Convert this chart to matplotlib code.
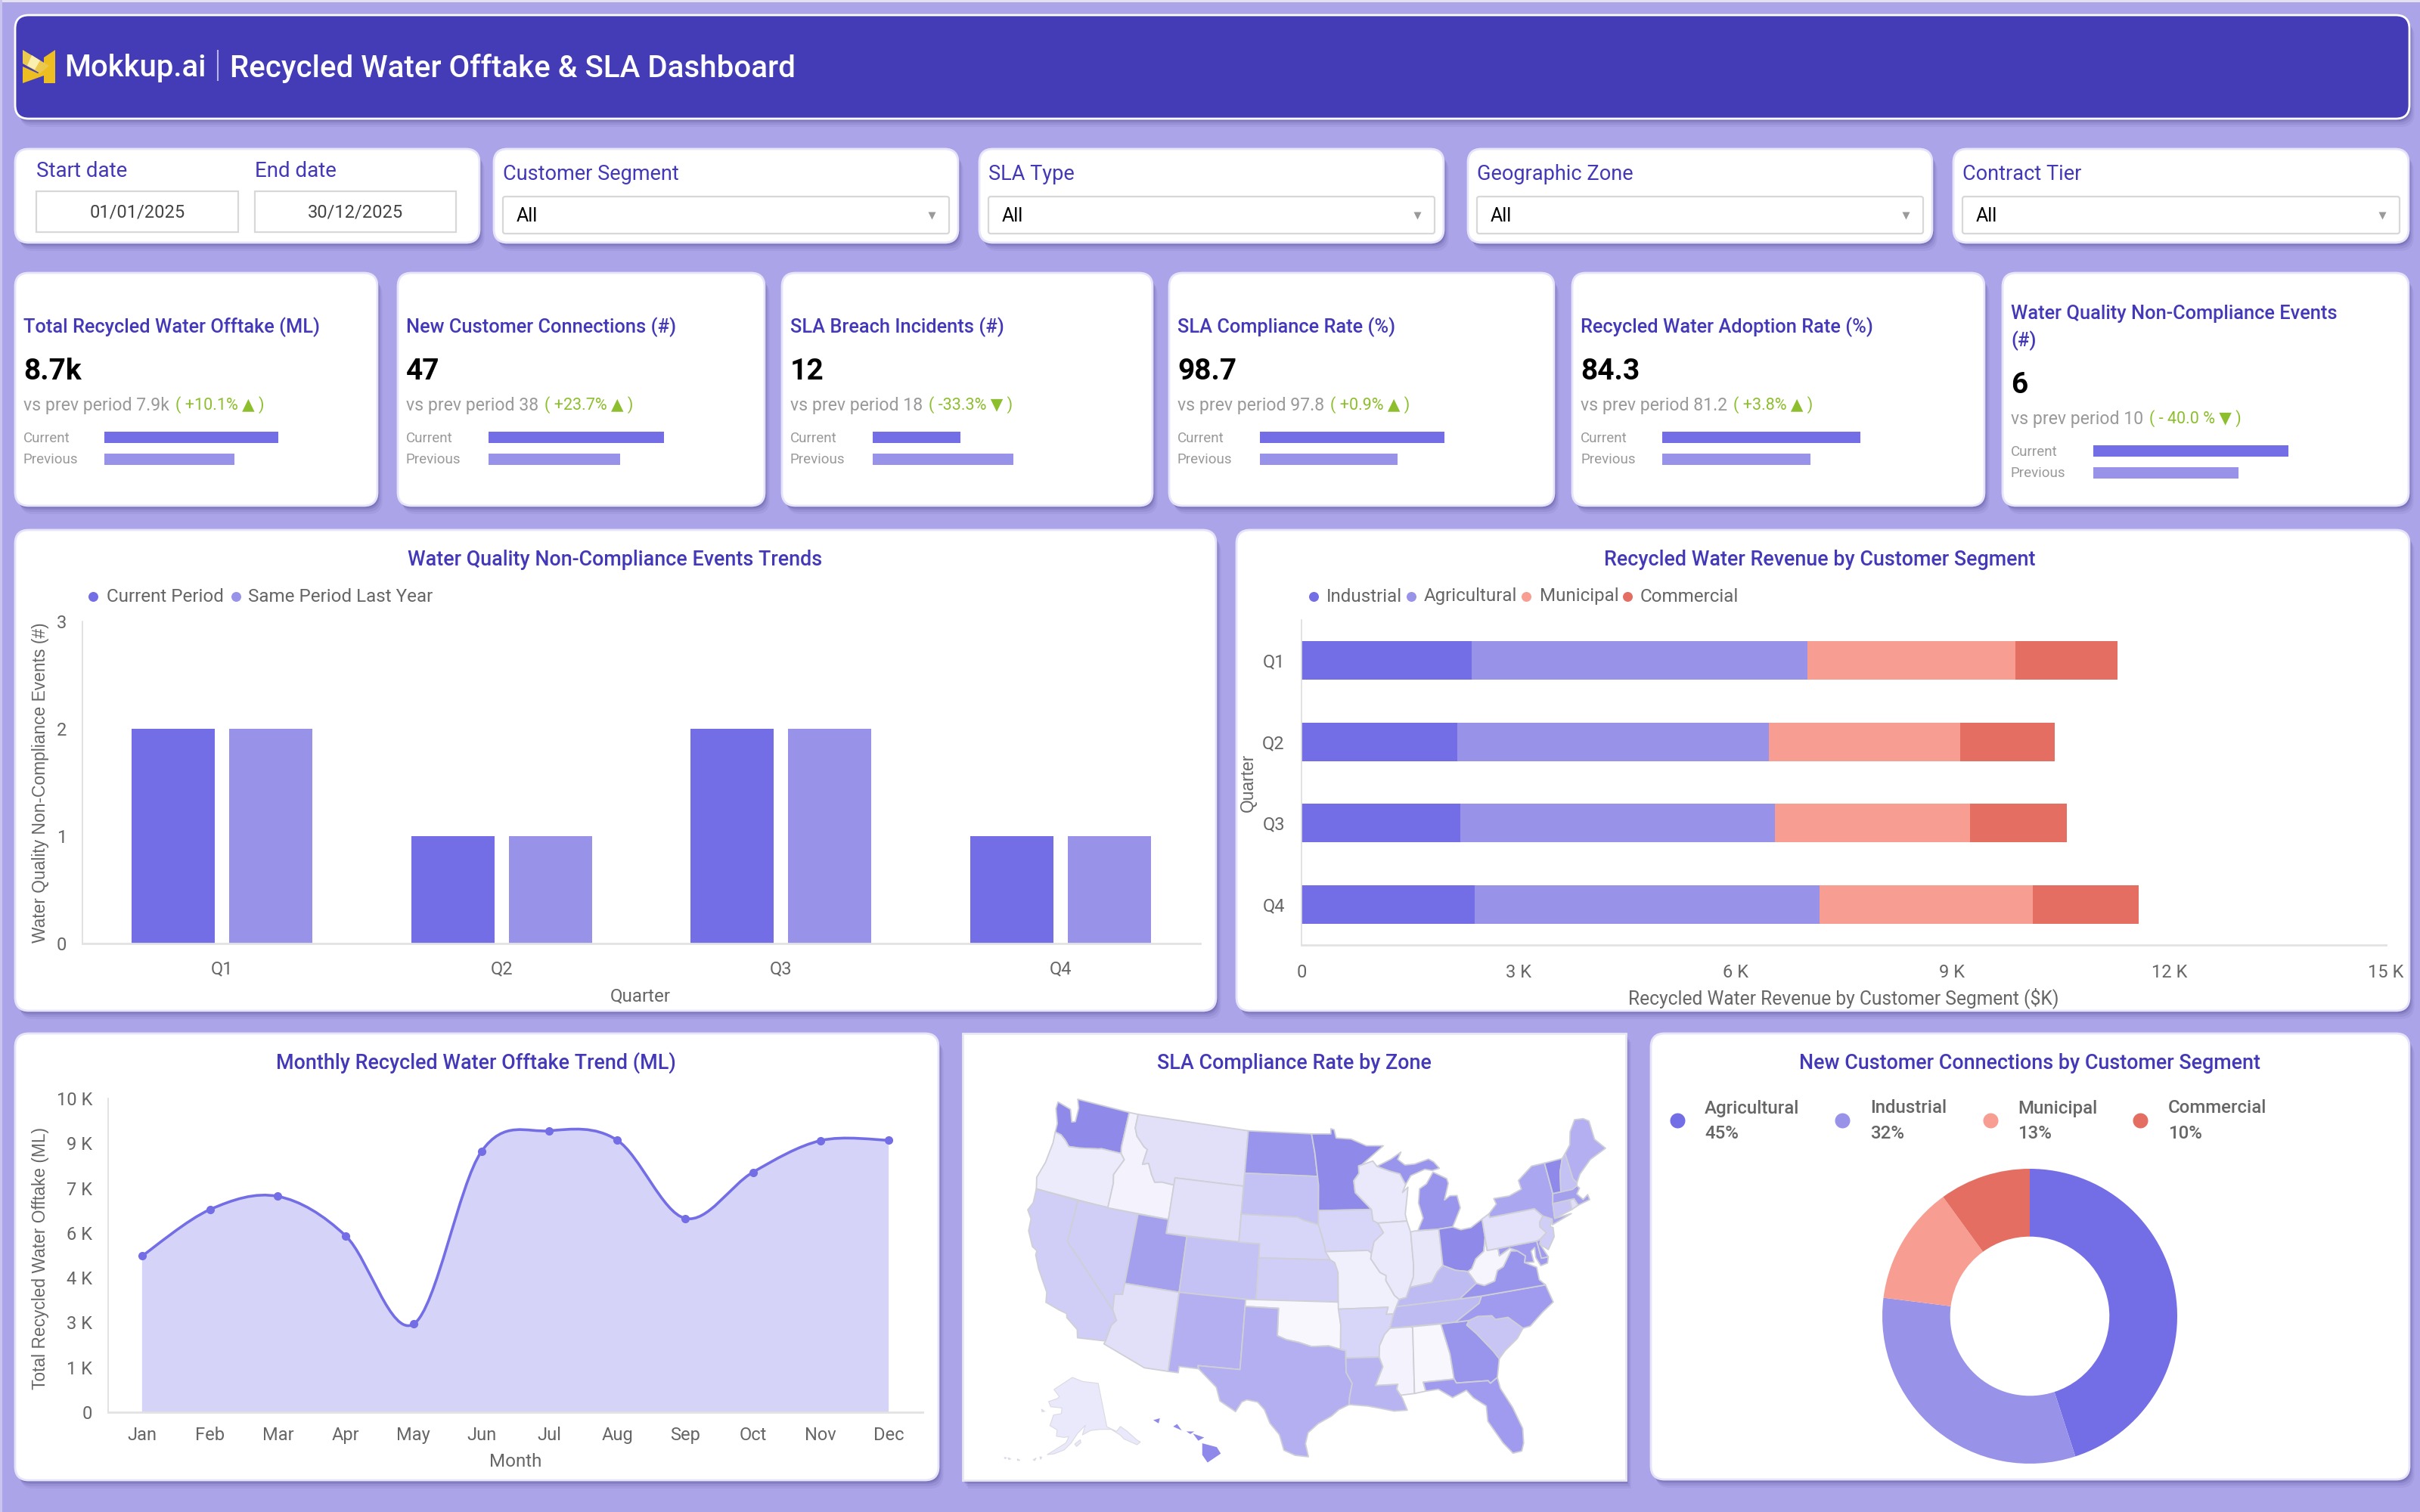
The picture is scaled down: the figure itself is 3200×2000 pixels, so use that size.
import math
import matplotlib
matplotlib.use('Agg')
import matplotlib.pyplot as plt
from matplotlib.patches import FancyBboxPatch, Polygon, Rectangle, PathPatch
from matplotlib.path import Path

plt.rcParams['font.family'] = ['Roboto', 'DejaVu Sans']

# ---- data ----
quarters = ['Q1', 'Q2', 'Q3', 'Q4']
events_current = [2, 1, 2, 1]
events_last_year = [2, 1, 2, 1]

revenue_industrial = [2.35, 2.16, 2.20, 2.40]
revenue_agricultural = [4.65, 4.30, 4.35, 4.77]
revenue_municipal = [2.87, 2.65, 2.70, 2.94]
revenue_commercial = [1.42, 1.31, 1.34, 1.47]

months = ['Jan', 'Feb', 'Mar', 'Apr', 'May', 'Jun', 'Jul', 'Aug', 'Sep', 'Oct', 'Nov', 'Dec']
offtake = [4980, 6460, 6880, 5620, 2810, 8310, 8970, 8670, 6180, 7650, 8660, 8670]

segments = ['Agricultural', 'Industrial', 'Municipal', 'Commercial']
connections = [45, 32, 13, 10]

kpi_titles = ['Total Recycled Water Offtake (ML)', 'New Customer Connections (#)',
              'SLA Breach Incidents (#)', 'SLA Compliance Rate (%)',
              'Recycled Water Adoption Rate (%)', 'Water Quality Non-Compliance Events\n(#)']
kpi_values = ['8.7k', '47', '12', '98.7', '84.3', '6']
kpi_prev = ['7.9k', '38', '18', '97.8', '81.2', '10']
kpi_delta = ['( +10.1% ▲ )', '( +23.7% ▲ )', '( -33.3% ▼ )', '( +0.9% ▲ )', '( +3.8% ▲ )', '( - 40.0 % ▼ )']
kpi_bar_current = [76.7, 77.3, 38.7, 81.3, 87.3, 86.0]
kpi_bar_previous = [57.3, 58.0, 62.0, 60.7, 65.3, 64.0]

filters = ['Customer Segment', 'SLA Type', 'Geographic Zone', 'Contract Tier']
start_date = '01/01/2025'
end_date = '30/12/2025'

# rough state outlines, lon/lat
states = {
    'WA': [(-124.7,48.4),(-123.2,48.15),(-122.7,47.3),(-122.35,47.4),(-122.4,48.4),(-122.76,49),(-117.03,49),(-117.04,46.42),(-116.92,45.99),(-118.98,46),(-119.3,45.93),(-121.2,45.65),(-122.3,45.55),(-122.8,45.9),(-123.4,46.2),(-124.05,46.27),(-124.1,46.9),(-124.7,47.9)],
    'OR': [(-124.05,46.27),(-123.4,46.2),(-122.8,45.9),(-122.3,45.55),(-121.2,45.65),(-119.3,45.93),(-118.98,46),(-116.92,45.99),(-116.46,45.6),(-116.9,44.9),(-117.2,44.4),(-117.03,43.8),(-117.03,42),(-124.2,42),(-124.5,42.8),(-124.1,44),(-123.95,45.5)],
    'CA': [(-124.2,42),(-120,42),(-120,39),(-114.63,35),(-114.13,34.3),(-114.5,33.9),(-114.72,32.72),(-117.12,32.53),(-117.3,33.1),(-118.4,33.75),(-118.5,34.03),(-119.2,34.15),(-120.5,34.45),(-120.65,35.15),(-121.9,36.6),(-122.5,37.5),(-122.5,37.8),(-123,38),(-123.75,39),(-123.85,39.85),(-124.4,40.4),(-124.1,41)],
    'NV': [(-120,42),(-114.04,42),(-114.04,36.2),(-114.75,36.1),(-114.63,35),(-120,39)],
    'ID': [(-117.03,49),(-116.05,49),(-116.05,48),(-115.7,47.45),(-114.75,46.8),(-114.35,46.65),(-114.55,45.55),(-113.95,45.7),(-113.45,44.95),(-113,44.45),(-112.3,44.55),(-111.05,44.48),(-111.05,42),(-117.03,42),(-117.03,43.8),(-117.2,44.4),(-116.9,44.9),(-116.46,45.6),(-116.92,45.99),(-117.04,46.42)],
    'MT': [(-116.05,49),(-104.05,49),(-104.05,45),(-111.05,45),(-111.05,44.48),(-112.3,44.55),(-113,44.45),(-113.45,44.95),(-113.95,45.7),(-114.55,45.55),(-114.35,46.65),(-114.75,46.8),(-115.7,47.45),(-116.05,48)],
    'WY': [(-111.05,45),(-104.05,45),(-104.05,41),(-111.05,41)],
    'UT': [(-114.04,42),(-111.05,42),(-111.05,41),(-109.05,41),(-109.05,37),(-114.04,37)],
    'AZ': [(-114.04,37),(-109.05,37),(-109.05,31.33),(-111.07,31.33),(-114.81,32.5),(-114.72,32.72),(-114.5,33.9),(-114.13,34.3),(-114.63,35),(-114.75,36.1),(-114.04,36.2)],
    'CO': [(-109.05,41),(-102.05,41),(-102.05,37),(-109.05,37)],
    'NM': [(-109.05,37),(-103,37),(-103.04,32),(-106.62,32),(-106.53,31.78),(-108.2,31.78),(-108.2,31.33),(-109.05,31.33)],
    'ND': [(-104.05,49),(-97.23,49),(-96.85,47.6),(-96.56,45.94),(-104.05,45.94)],
    'SD': [(-104.05,45.94),(-96.56,45.94),(-96.45,45.3),(-96.45,42.5),(-97.9,42.8),(-98.5,43),(-104.05,43)],
    'NE': [(-104.05,43),(-98.5,43),(-97.9,42.8),(-96.45,42.5),(-96.1,41.7),(-95.85,41),(-95.31,40),(-102.05,40),(-102.05,41),(-104.05,41)],
    'KS': [(-102.05,40),(-95.31,40),(-94.9,39.8),(-94.6,39.1),(-94.62,37),(-102.05,37)],
    'OK': [(-103,37),(-94.62,37),(-94.43,35.4),(-94.48,33.64),(-95.5,33.9),(-97,33.85),(-98.1,34.13),(-99.2,34.3),(-100,34.56),(-100,36.5),(-103,36.5)],
    'TX': [(-106.62,32),(-103.04,32),(-103,36.5),(-100,36.5),(-100,34.56),(-99.2,34.3),(-98.1,34.13),(-97,33.85),(-95.5,33.9),(-94.48,33.64),(-94.04,33.55),(-94.04,32),(-93.55,31.2),(-93.8,30.2),(-93.85,29.7),(-94.7,29.35),(-95.3,28.9),(-96.4,28.35),(-97.2,27.7),(-97.4,26.9),(-97.15,25.96),(-98.2,26.05),(-99.1,26.4),(-99.5,27.5),(-100.3,28.3),(-100.8,29.25),(-101.4,29.77),(-102.3,29.88),(-102.7,29.7),(-103.15,28.98),(-104.5,29.65),(-104.9,30.6),(-106.53,31.78)],
    'MN': [(-97.23,49),(-95.15,49),(-95.15,49.38),(-94.8,49.3),(-94.6,48.7),(-93,48.6),(-91.4,48.07),(-89.6,48),(-92,46.7),(-92.3,46.65),(-92.3,46.1),(-92.85,45.6),(-92.75,44.75),(-91.2,43.5),(-96.45,43.5),(-96.45,45.3),(-96.56,45.94),(-96.85,47.6)],
    'IA': [(-96.45,43.5),(-91.2,43.5),(-91.1,42.7),(-90.64,42.5),(-90.15,41.8),(-91.1,41.2),(-91.4,40.38),(-91.72,40.6),(-95.77,40.58),(-95.85,41),(-96.1,41.7),(-96.45,42.5)],
    'MO': [(-95.77,40.58),(-91.72,40.6),(-91.4,40.38),(-91.5,40),(-90.7,39),(-90.15,38.75),(-90.2,38.4),(-89.5,37.3),(-89.1,37),(-89.4,36.5),(-89.7,36),(-90.37,36),(-90.15,36.5),(-94.62,36.5),(-94.62,37),(-94.6,39.1),(-94.9,39.8),(-95.31,40)],
    'AR': [(-94.62,36.5),(-90.15,36.5),(-90.37,36),(-89.7,36),(-90.1,35),(-90.6,34.6),(-91.1,33.8),(-91.17,33),(-94.04,33.02),(-94.04,33.55),(-94.48,33.64),(-94.43,35.4)],
    'LA': [(-94.04,33.02),(-91.17,33),(-90.9,32.3),(-91.6,31),(-89.73,31),(-89.85,30.65),(-89.55,30.2),(-89.4,29.9),(-89.1,29.1),(-90.2,29.1),(-91.3,29.35),(-92.3,29.55),(-93.85,29.7),(-93.8,30.2),(-93.55,31.2),(-94.04,32)],
    'WI': [(-92.3,46.65),(-92,46.7),(-90.8,46.95),(-90.4,46.55),(-89.1,46.15),(-88.1,45.9),(-87.6,45.1),(-88,44.55),(-87.4,44.9),(-87.55,44.3),(-87.9,43),(-87.8,42.5),(-90.64,42.5),(-91.1,42.7),(-91.2,43.5),(-92.75,44.75),(-92.85,45.6),(-92.3,46.1)],
    'IL': [(-90.64,42.5),(-87.8,42.5),(-87.53,41.7),(-87.53,39.35),(-87.65,38.5),(-88.05,37.8),(-88.45,37.1),(-89.1,37),(-89.5,37.3),(-90.2,38.4),(-90.15,38.75),(-90.7,39),(-91.5,40),(-91.4,40.38),(-91.1,41.2),(-90.15,41.8)],
    'IN': [(-87.53,41.7),(-87.2,41.75),(-84.8,41.7),(-84.82,39.1),(-85.4,38.7),(-86,38),(-87,37.9),(-88.05,37.8),(-87.65,38.5),(-87.53,39.35)],
    'MI': [(-86.82,41.76),(-84.8,41.7),(-83.45,41.73),(-83.15,42.1),(-82.45,43),(-82.6,43.9),(-83.3,43.95),(-83.9,43.7),(-83.3,44.85),(-83.4,45.2),(-84.7,45.78),(-85.5,45),(-86.25,44.7),(-86.5,43.7),(-86.2,42.6)],
    'MI2': [(-90.4,46.55),(-89.1,46.15),(-88.1,45.9),(-87.6,45.1),(-87,45.7),(-85.5,46.05),(-84.75,45.9),(-84,46),(-84.5,46.5),(-85,46.75),(-86.5,46.5),(-87.5,46.5),(-88.2,46.95),(-87.8,47.45),(-88.9,47),(-90.4,46.55)],
    'OH': [(-84.8,41.7),(-83.45,41.73),(-82.7,41.45),(-81.7,41.5),(-80.52,41.98),(-80.52,40.64),(-80.85,39.7),(-81.7,39.25),(-82.2,38.6),(-82.6,38.45),(-83.7,38.65),(-84.82,39.1)],
    'KY': [(-89.4,36.5),(-89.1,37),(-88.45,37.1),(-88.05,37.8),(-87,37.9),(-86,38),(-85.4,38.7),(-84.82,39.1),(-83.7,38.65),(-82.6,38.45),(-81.97,37.54),(-83.68,36.6)],
    'TN': [(-90.1,35),(-89.7,36),(-89.4,36.5),(-83.68,36.6),(-81.68,36.59),(-82,36.1),(-84.32,35)],
    'MS': [(-90.1,35),(-88.2,35),(-88.1,34.9),(-88.4,30.25),(-89.55,30.2),(-89.85,30.65),(-89.73,31),(-91.6,31),(-90.9,32.3),(-91.17,33),(-91.1,33.8),(-90.6,34.6)],
    'AL': [(-88.2,35),(-85.6,35),(-85.1,32.8),(-85,31),(-87.6,31),(-87.45,30.35),(-88.4,30.25),(-88.1,34.9)],
    'GA': [(-85.6,35),(-83.1,35),(-83.35,34.7),(-82.6,34),(-81.4,32.6),(-81,32),(-81.4,30.7),(-82.05,30.36),(-82.2,30.57),(-84.85,30.7),(-85,31),(-85.1,32.8)],
    'FL': [(-87.6,31),(-85,31),(-84.85,30.7),(-82.2,30.57),(-82.05,30.36),(-81.4,30.7),(-81.3,29.9),(-80.55,28.4),(-80.03,26.8),(-80.15,25.75),(-80.4,25.2),(-81.1,25.15),(-81.75,26),(-82.7,27.7),(-82.65,28.8),(-83.6,29.5),(-84.1,30.1),(-85.3,29.7),(-86.4,30.4),(-87.45,30.35)],
    'SC': [(-83.35,34.7),(-83.1,35),(-82.3,35.2),(-81.05,35.1),(-80.8,34.8),(-79.67,34.8),(-78.55,33.85),(-79.2,33.2),(-80.4,32.5),(-81,32),(-81.4,32.6),(-82.6,34)],
    'NC': [(-84.32,35),(-83.1,35),(-82.3,35.2),(-81.05,35.1),(-80.8,34.8),(-79.67,34.8),(-78.55,33.85),(-77.9,33.9),(-76.6,34.7),(-75.5,35.25),(-75.85,36.55),(-81.68,36.59),(-82,36.1)],
    'VA': [(-83.68,36.6),(-81.97,37.54),(-81.3,37.3),(-80.3,37.5),(-79.9,38.2),(-79.3,38.4),(-78.35,39.4),(-77.75,39.32),(-77.1,38.85),(-77.3,38.4),(-76.3,37.9),(-76.3,37),(-75.85,36.55),(-81.68,36.59)],
    'WV': [(-82.6,38.45),(-82.2,38.6),(-81.7,39.25),(-80.85,39.7),(-80.52,40.64),(-80.52,39.72),(-79.48,39.72),(-79.48,39.2),(-78.4,39.6),(-77.75,39.32),(-78.35,39.4),(-79.3,38.4),(-79.9,38.2),(-80.3,37.5),(-81.3,37.3),(-81.97,37.54)],
    'MD': [(-79.48,39.72),(-75.79,39.72),(-75.7,38.46),(-75.05,38.45),(-75.25,38.03),(-75.9,37.95),(-76.2,38.6),(-76.1,39.3),(-76.5,39.1),(-76.45,38.3),(-77.3,38.4),(-77.1,38.85),(-77.75,39.32),(-78.4,39.6),(-79.48,39.2)],
    'DE': [(-75.79,39.72),(-75.4,39.8),(-75.55,39.45),(-75.05,38.45),(-75.7,38.46)],
    'PA': [(-80.52,41.98),(-79.76,42.27),(-79.76,42),(-75.35,42),(-74.7,41.36),(-75.13,40.98),(-75.2,40.65),(-74.72,40.15),(-75.4,39.8),(-75.79,39.72),(-80.52,39.72)],
    'NJ': [(-74.7,41.36),(-73.9,41),(-74.25,40.5),(-74,40.4),(-74.1,39.75),(-74.9,38.95),(-75.55,39.45),(-75.4,39.8),(-74.72,40.15),(-75.2,40.65),(-75.13,40.98)],
    'NY': [(-79.76,42.27),(-79.76,42),(-75.35,42),(-74.7,41.36),(-73.9,41),(-74,40.6),(-72,41.05),(-73.65,41),(-73.5,42.05),(-73.27,42.75),(-73.35,45),(-74.7,45),(-76.3,44.2),(-76.2,43.55),(-77.5,43.25),(-79.05,43.27),(-78.9,42.85)],
    'CT': [(-73.5,42.05),(-71.8,42.02),(-71.85,41.32),(-73.65,41)],
    'RI': [(-71.8,42.02),(-71.38,42.02),(-71.15,41.5),(-71.85,41.32)],
    'MA': [(-73.5,42.05),(-73.27,42.75),(-71.3,42.7),(-70.8,42.87),(-70.6,42.65),(-71,42.3),(-70.55,41.8),(-70,42.05),(-69.95,41.67),(-71.15,41.5),(-71.38,42.02)],
    'VT': [(-73.35,45),(-71.5,45.01),(-72.05,44.1),(-72.46,42.73),(-73.27,42.75)],
    'NH': [(-71.5,45.01),(-71.08,45.3),(-70.98,43.4),(-70.7,43.07),(-70.8,42.87),(-71.3,42.7),(-72.46,42.73),(-72.05,44.1)],
    'ME': [(-71.08,45.3),(-70.4,45.8),(-70,46.7),(-69.2,47.45),(-68.3,47.35),(-67.8,47.07),(-67.8,45.7),(-67,44.85),(-68.8,44.4),(-70.2,43.6),(-70.7,43.07),(-70.98,43.4)],
}
alaska = [(-141,69.6),(-141,60.3),(-137.5,58.9),(-135.5,59.7),(-133.5,58.4),(-131,56),(-130,55.3),(-131.5,55),(-135.5,57),(-136.5,58),(-139.5,59.6),(-144,60),(-148,60),(-151.5,59.2),(-150,61.2),(-153.5,59.5),(-156,57.5),(-158.5,56),(-162,55),(-164.5,54.6),(-162,55.8),(-158,57.5),(-157,58.8),(-159,58.6),(-162,58.7),(-162,60),(-165.3,60.7),(-164.5,63),(-161,63.5),(-161,64.7),(-166.5,64.6),(-168,65.6),(-164,66.5),(-163,67),(-166.5,68.3),(-163,69.5),(-156.5,71.3),(-150,70.4)]
alaska_islands = [
    [(-154.6,57.3),(-152.4,58.2),(-152.2,57.6),(-153.9,56.8)],
    [(-170.5,63.7),(-168.8,63.4),(-170,63.2)],
    [(-166.9,53.9),(-166.2,53.9),(-166.5,53.4)],
    [(-169,53),(-168.1,53.5),(-168.4,52.9)],
    [(-174.3,52.3),(-173.3,52.2),(-174,52)],
    [(-177.4,51.9),(-176.4,51.9),(-176.9,51.6)],
    [(-178.6,51.7),(-177.9,51.8),(-178.2,51.5)],
]
hawaii = [
    [(-156.1,20.3),(-155.0,20.0),(-154.7,19.5),(-155.7,18.8),(-156.1,19.4)],
    [(-156.8,21.05),(-155.95,20.75),(-156.4,20.5)],
    [(-157.3,21.22),(-156.7,21.22),(-157,21.02)],
    [(-158.3,21.6),(-157.65,21.3),(-158,21.8)],
    [(-159.8,22.1),(-159.3,22.25),(-159.4,21.85)],
]
state_shades = {
    'WA':'#8F8AEA','OR':'#ECEBFB','CA':'#D0CEF6','NV':'#D0CEF6','ID':'#F4F3FD','MT':'#E2E0F9','WY':'#E2E0F9',
    'UT':'#A5A0EE','AZ':'#E2E0F9','CO':'#C4C1F4','NM':'#B3AFF0','ND':'#9A95EC','SD':'#C4C1F4','NE':'#D8D6F8',
    'KS':'#D0CEF6','OK':'#F8F7FE','TX':'#B3AFF0','MN':'#8F8AEA','IA':'#D8D6F8','MO':'#F0EFFC','AR':'#D8D6F8',
    'LA':'#B8B4F1','WI':'#EAE9FB','IL':'#EAE9FB','IN':'#E8E7FA','MI':'#9A95EC','MI2':'#9A95EC','OH':'#8F8AEA',
    'KY':'#BEBBF3','TN':'#BEBBF3','MS':'#F4F3FD','AL':'#F8F7FE','GA':'#9A95EC','FL':'#A09BEE','SC':'#C8C5F5',
    'NC':'#A09BEE','VA':'#9A95EC','WV':'#F6F5FE','MD':'#A09BEE','DE':'#A09BEE','PA':'#E4E2FA','NJ':'#D0CEF6',
    'NY':'#AAA6EF','CT':'#C8C5F5','RI':'#E0DEF9','MA':'#A5A0EE','VT':'#8F8AEA','NH':'#C4C1F4','ME':'#B3AFF0',
}
alaska_shade = '#EAE9FB'
hawaii_shade = '#8F8AEA'

# ---- colours ----
PAGE = '#ACA4E8'
INDIGO = '#4338B8'
C1 = '#746EE6'
C2 = '#9893E8'
C3 = '#F79D92'
C4 = '#E46E62'
GREY = '#666666'
LIGHT = '#999999'
GREEN = '#8DBE2D'
FILL = '#D5D3F7'

W, H = 3200, 2000
fig = plt.figure(figsize=(32, 20), dpi=100, facecolor=PAGE)
base = fig.add_axes([0, 0, 1, 1])
base.set_xlim(0, W)
base.set_ylim(H, 0)
base.axis('off')


def px_axes(x0, y0, x1, y1):
    a = fig.add_axes([x0 / W, 1 - y1 / H, (x1 - x0) / W, (y1 - y0) / H])
    a.patch.set_alpha(0)
    return a


def card(x0, y0, x1, y1, r=18, color='white', edge='#E6E4FA'):
    if r:
        style = 'round,pad=0,rounding_size=%d' % r
    else:
        style = 'square,pad=0'
    for off, alpha in [(11, .07), (8, .10), (5, .14), (3, .18)]:
        base.add_patch(FancyBboxPatch((x0 + off * .6, y0 + off), x1 - x0, y1 - y0, boxstyle=style,
                                      fc='#3A3480', ec='none', alpha=alpha))
    base.add_patch(FancyBboxPatch((x0, y0), x1 - x0, y1 - y0, boxstyle=style, fc=color, ec=edge, lw=2))


def label(x, y, s, size=17.4, color=GREY, ha='left', weight='normal', rot=0, family=None):
    t = base.text(x, y, s, fontsize=size, color=color, ha=ha, va='center', fontweight=weight,
                  rotation=rot, rotation_mode='anchor' if rot else 'default')
    if family:
        t.set_family(family)
    return t


def axis_title(x, y, s, size=16.4):
    # the rotated axis titles are in an Arial-like face, not Roboto
    return label(x, y, s, size=size, ha='center', rot=90, family='Liberation Sans')


def dot(x, y, color, size=13):
    base.plot([x], [y], 'o', ms=size * .72, color=color, mec='none')


def clean_axis(a):
    for s in ['top', 'right']:
        a.spines[s].set_visible(False)
    a.spines['left'].set_color('#DDDDDD')
    a.spines['bottom'].set_color('#E2E2E2')
    a.spines['left'].set_linewidth(1.2)
    a.spines['bottom'].set_linewidth(2)
    a.tick_params(length=0, labelsize=17, labelcolor=GREY)


# ---- header ----
base.add_patch(Rectangle((0, 0), W, 3, fc='#E4E2F0', ec='none'))
base.add_patch(Rectangle((0, 0), 3, H, fc='#C9C5EE', ec='none'))
card(20, 20, 3186, 157, r=18, color='#433CB6', edge='white')
base.add_patch(Polygon([(73, 66), (73, 110), (58, 110), (58, 76)], fc='#EDBE22', ec='none'))
base.add_patch(Polygon([(30, 88), (50, 97), (58, 92), (58, 100), (30, 110)], fc='#EDBE22', ec='none'))
base.add_patch(Polygon([(30, 66), (65, 87), (53, 97), (30, 84)], fc='#EBC94E', ec='none'))
base.add_patch(Polygon([(42, 73), (53, 80), (46, 92), (36, 87)], fc='#FBEFB0', ec='none'))
label(85, 90, 'Mokkup.ai', size=28.8, color='white', weight='medium')
base.plot([288, 288], [67, 106], color='#B9B5EA', lw=1.5)
label(304, 90, 'Recycled Water Offtake & SLA Dashboard', size=29, color='white', weight='medium')

# ---- filters ----
card(20, 197, 634, 321)
label(48, 227, 'Start date', color=INDIGO, size=20)
label(337, 227, 'End date', color=INDIGO, size=20)
for (x0, x1), s in zip([(48, 315), (337, 603)], [start_date, end_date]):
    base.add_patch(Rectangle((x0, 253), x1 - x0, 54, fc='white', ec='#D8D8D8', lw=1.6))
    label((x0 + x1) / 2, 281, s, size=17, color='#444444', ha='center')

filter_boxes = [(653, 1267), (1295, 1909), (1941, 2555), (2583, 3185)]
for (x0, x1), name in zip(filter_boxes, filters):
    card(x0, 197, x1, 321)
    label(x0 + 12, 231, name, color=INDIGO, size=19.5)
    base.add_patch(FancyBboxPatch((x0 + 12, 260), x1 - x0 - 24, 49, boxstyle='round,pad=0,rounding_size=3',
                                  fc='white', ec='#D8D8D8', lw=1.6))
    label(x0 + 30, 286, 'All', size=18, color='black')
    base.plot([x1 - 35], [285], 'v', ms=7, color='#9A9A9A', mec='none')

# ---- KPI cards ----
kpi_boxes = [(20, 499), (526, 1011), (1034, 1524), (1546, 2055), (2079, 2624), (2648, 3185)]
bar_lefts = [138, 646, 1154, 1666, 2198, 2768]
r = fig.canvas.get_renderer()
for i, (x0, x1) in enumerate(kpi_boxes):
    card(x0, 361, x1, 669)
    tx = x0 + 11
    shift = 18 if i == 5 else 0
    if i == 5:
        first, second = kpi_titles[i].split('\n')
        label(tx, 415, first, size=18.3, color=INDIGO, weight='medium')
        label(tx, 451, second, size=18.3, color=INDIGO, weight='medium')
    else:
        label(tx, 433, kpi_titles[i], size=18.3, color=INDIGO, weight='medium')
    label(tx, 492 + shift, kpi_values[i], size=28, color='black', weight='bold')
    t = label(tx, 536 + shift, 'vs prev period ' + kpi_prev[i], size=16.6, color=LIGHT)
    bb = t.get_window_extent(r)
    label(bb.x1 + 8, 536 + shift, kpi_delta[i], size=15.5, color=GREEN)
    label(tx, 580 + shift, 'Current', size=13.5, color=LIGHT)
    label(tx, 608 + shift, 'Previous', size=13.5, color=LIGHT)
    # mini bars, 300 px wide axes on a 0-100 scale
    mini = px_axes(bar_lefts[i], 564 + shift, bar_lefts[i] + 300, 622 + shift)
    mini.barh([0, 1], [kpi_bar_current[i], kpi_bar_previous[i]], height=0.55, color=[C1, C2])
    mini.set_xlim(0, 100)
    mini.set_ylim(1.5, -0.5)
    mini.axis('off')

# ---- water quality events ----
card(20, 701, 1608, 1337)
label(813, 741, 'Water Quality Non-Compliance Events Trends', size=19.4, color=INDIGO, ha='center', weight='medium')
dot(123, 789, C1)
label(141, 789, 'Current Period')
dot(312, 789, C2)
label(328, 789, 'Same Period Last Year')
ax = px_axes(109, 822, 1587, 1248)
xs = list(range(len(quarters)))
ax.bar([x - .1745 for x in xs], events_current, width=.298, color=C1)
ax.bar([x + .1745 for x in xs], events_last_year, width=.298, color=C2)
ax.set_xlim(-.5, 3.5)
ax.set_ylim(0, 3)
ax.set_xticks(xs)
ax.set_xticklabels(quarters)
ax.set_yticks([0, 1, 2, 3])
clean_axis(ax)
ax.tick_params(axis='x', pad=16)
ax.tick_params(axis='y', pad=15)
label(847, 1318, 'Quarter', ha='center')
axis_title(54, 1035, 'Water Quality Non-Compliance Events (#)')

# ---- revenue ----
card(1635, 701, 3186, 1337)
label(2406, 741, 'Recycled Water Revenue by Customer Segment', size=19.4, color=INDIGO, ha='center', weight='medium')
rev_legend = ['Industrial', 'Agricultural', 'Municipal', 'Commercial']
for dx, tx, name, c in zip([1737, 1866, 2018, 2152], [1754, 1883, 2036, 2169], rev_legend, [C1, C2, C3, C4]):
    dot(dx, 789, c)
    label(tx, 789, name)
ax = px_axes(1721, 820, 3155, 1250)
left = [0, 0, 0, 0]
for vals, c in zip([revenue_industrial, revenue_agricultural, revenue_municipal, revenue_commercial], [C1, C2, C3, C4]):
    ax.barh(xs, vals, left=left, height=.47, color=c)
    left = [a + b for a, b in zip(left, vals)]
ax.set_ylim(3.5, -.5)
ax.set_xlim(0, 15)
ax.set_yticks(xs)
ax.set_yticklabels(quarters)
ax.set_xticks([0, 3, 6, 9, 12, 15])
ax.set_xticklabels(['0', '3 K', '6 K', '9 K', '12 K', '15 K'])
clean_axis(ax)
ax.tick_params(axis='x', pad=18)
ax.tick_params(axis='y', pad=16)
label(2438, 1320, 'Recycled Water Revenue by Customer Segment ($K)', ha='center', size=17.7)
axis_title(1650, 1035, 'Quarter')

# ---- monthly trend ----
card(20, 1367, 1241, 1958)
label(629, 1406, 'Monthly Recycled Water Offtake Trend (ML)', size=19.4, color=INDIGO, ha='center', weight='medium')
ax = px_axes(143, 1453, 1220, 1868)
mx = list(range(len(months)))
verts = [(mx[0], offtake[0])]
codes = [Path.MOVETO]
for i in range(len(mx) - 1):
    # cardinal spline through the monthly values, as a bezier path
    prev_i = max(i - 1, 0)
    next_i = min(i + 2, len(mx) - 1)
    c1 = (mx[i] + (mx[i + 1] - mx[prev_i]) / 6, offtake[i] + (offtake[i + 1] - offtake[prev_i]) / 6)
    c2 = (mx[i + 1] - (mx[next_i] - mx[i]) / 6, offtake[i + 1] - (offtake[next_i] - offtake[i]) / 6)
    verts += [c1, c2, (mx[i + 1], offtake[i + 1])]
    codes += [Path.CURVE4] * 3
area = Path(verts + [(mx[-1], 0), (mx[0], 0), (mx[0], offtake[0])],
            codes + [Path.LINETO, Path.LINETO, Path.LINETO])
ax.add_patch(PathPatch(area, fc=FILL, ec='none'))
ax.add_patch(PathPatch(Path(verts, codes), fc='none', ec=C1, lw=2.6))
ax.plot(mx, offtake, 'o', ms=7, color=C1, mec=C1)
ax.set_xlim(-.5, 11.5)
ax.set_ylim(0, 10000)
ax.set_xticks(mx)
ax.set_xticklabels(months)
ax.set_yticks([10000 * i / 7 for i in range(8)])
ax.set_yticklabels(['0', '1 K', '3 K', '4 K', '6 K', '7 K', '9 K', '10 K'])
clean_axis(ax)
ax.tick_params(axis='x', pad=14)
ax.tick_params(axis='y', pad=15)
label(682, 1934, 'Month', ha='center')
axis_title(54, 1664, 'Total Recycled Water Offtake (ML)')

# ---- map ----
card(1273, 1367, 2150, 1958, r=0, edge='#E8E8F4')
label(1711, 1406, 'SLA Compliance Rate by Zone', size=19.4, color=INDIGO, ha='center', weight='medium')


def albers(lon, lat, lon0=-96, lat0=37.5, p1=29.5, p2=45.5):
    p1, p2, lat0r = math.radians(p1), math.radians(p2), math.radians(lat0)
    n = (math.sin(p1) + math.sin(p2)) / 2
    c = math.cos(p1) ** 2 + 2 * n * math.sin(p1)
    rho0 = math.sqrt(c - 2 * n * math.sin(lat0r)) / n
    rho = math.sqrt(c - 2 * n * math.sin(math.radians(lat))) / n
    th = n * math.radians(lon - lon0)
    return rho * math.sin(th), rho0 - rho * math.cos(th)


def fit_box(polys, box, **proj):
    pts = [[albers(lo, la, **proj) for lo, la in p] for p in polys]
    xv = [q[0] for p in pts for q in p]
    yv = [q[1] for p in pts for q in p]
    x0, y0, x1, y1 = box
    sx = (x1 - x0) / (max(xv) - min(xv))
    sy = (y1 - y0) / (max(yv) - min(yv))
    return [[(x0 + (q[0] - min(xv)) * sx, y1 - (q[1] - min(yv)) * sy) for q in p] for p in pts]


names = list(states.keys())
shapes = fit_box([states[k] for k in names], (1359, 1454, 2123, 1927))
for k, p in zip(names, shapes):
    base.add_patch(Polygon(p, fc=state_shades[k], ec='#CFCFD8', lw=1.3, joinstyle='round'))
ak_shapes = fit_box([alaska] + alaska_islands, (1328, 1822, 1508, 1932), lon0=-154, lat0=50, p1=55, p2=65)
for p in ak_shapes:
    base.add_patch(Polygon(p, fc=alaska_shade, ec='#DADAE4', lw=.8))
for isl in hawaii:
    p = [(1602 + (lo + 155.4) * 17.5, 1921 - (la - 19.6) * 17) for lo, la in isl]
    base.add_patch(Polygon(p, fc=hawaii_shade, ec='none'))

# ---- donut ----
card(2183, 1367, 3186, 1957)
label(2684, 1406, 'New Customer Connections by Customer Segment', size=19.4, color=INDIGO, ha='center', weight='medium')
for dx, tx, name, v, c in zip([2218, 2436, 2632, 2830], [2254, 2473, 2668, 2867], segments, connections, [C1, C2, C3, C4]):
    dot(dx, 1482, c, size=20)
    label(tx, 1466, name, size=17.3, weight='medium')
    label(tx, 1500, '%d%%' % v, size=17.3, weight='medium')
ax = px_axes(2684 - 195, 1741 - 195, 2684 + 195, 1741 + 195)
ax.pie(connections, colors=[C1, C2, C3, C4], startangle=90, counterclock=False, radius=1,
       wedgeprops={'width': .46, 'linewidth': 0})
ax.set_xlim(-1, 1)
ax.set_ylim(-1, 1)

fig.savefig('out.png', dpi=100, facecolor=PAGE)
